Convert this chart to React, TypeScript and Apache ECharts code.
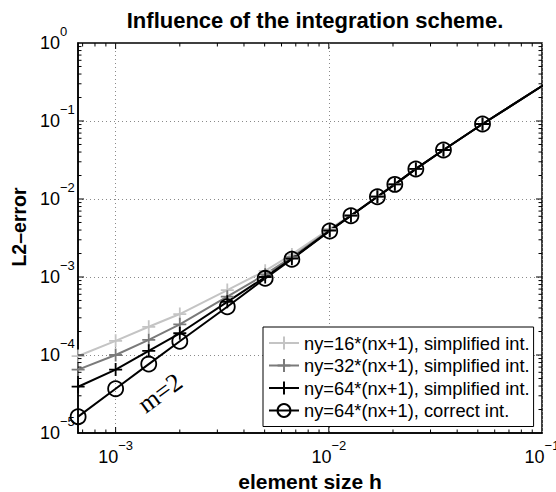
import { useEffect, useRef } from 'react';
import * as echarts from 'echarts';

// element size h of each mesh
const H = [0.000667, 0.001, 0.00143, 0.002, 0.00334, 0.00503, 0.00671, 0.0101, 0.0127, 0.0169, 0.0204, 0.0256, 0.0345, 0.0526, 0.111];

// L2 error per mesh
const ERR_NY16_SIMPLIFIED = [9.7e-5, 1.52e-4, 2.3e-4, 3.35e-4, 6.8e-4, 1.2e-3, 1.95e-3, 4.15e-3, 6.2e-3, 1.08e-2, 1.55e-2, 2.44e-2, 4.26e-2, 9.15e-2, 0.337];
const ERR_NY32_SIMPLIFIED = [6.5e-5, 1.0e-4, 1.56e-4, 2.47e-4, 5.6e-4, 1.08e-3, 1.8e-3, 4.0e-3, 6.14e-3, 1.07e-2, 1.54e-2, 2.43e-2, 4.25e-2, 9.15e-2, 0.337];
const ERR_NY64_SIMPLIFIED = [3.92e-5, 6.5e-5, 1.13e-4, 1.9e-4, 4.8e-4, 1.0e-3, 1.72e-3, 3.93e-3, 6.12e-3, 1.07e-2, 1.54e-2, 2.43e-2, 4.25e-2, 9.15e-2, 0.337];
const ERR_NY64_CORRECT = [1.62e-5, 3.7e-5, 7.65e-5, 1.5e-4, 4.16e-4, 9.62e-4, 1.69e-3, 3.89e-3, 6.11e-3, 1.07e-2, 1.54e-2, 2.43e-2, 4.25e-2, 9.15e-2, 0.337];

const SERIES_NAMES = [
  'ny=16*(nx+1), simplified int.',
  'ny=32*(nx+1), simplified int.',
  'ny=64*(nx+1), simplified int.',
  'ny=64*(nx+1), correct int.',
];

// axis ranges and decades that carry tick marks
const X_MIN = 0.000666;
const X_MAX = 0.1;
const Y_MIN = 1e-5;
const Y_MAX = 1;
const X_DECADES = [-4, -3, -2, -1];
const Y_DECADES = [-5, -4, -3, -2, -1, 0];
const MINOR_STEPS = [2, 3, 4, 5, 6, 7, 8, 9];

const FONT = '"Liberation Sans", Arial, Helvetica, sans-serif';
const PLUS = 'path://M0,6L12,6M6,0L6,12';

// tick marks: [x, y, axis (0 = x, 1 = y), major]
function buildTicks() {
  const ticks: number[][] = [];
  for (const d of X_DECADES) {
    const base = Math.pow(10, d);
    if (base > X_MIN && base < X_MAX) ticks.push([base, Y_MIN, 0, 1]);
    for (const m of MINOR_STEPS) {
      const v = m * base;
      if (v > X_MIN && v < X_MAX) ticks.push([v, Y_MIN, 0, 0]);
    }
  }
  for (const d of Y_DECADES) {
    const base = Math.pow(10, d);
    if (base > Y_MIN && base < Y_MAX) ticks.push([X_MIN, base, 1, 1]);
    for (const m of MINOR_STEPS) {
      const v = m * base;
      if (v > Y_MIN && v < Y_MAX) ticks.push([X_MIN, v, 1, 0]);
    }
  }
  return ticks;
}

function powerLabel(v: number) {
  const e = Math.log10(v);
  const r = Math.round(e);
  if (Math.abs(e - r) > 1e-6) return '';
  return `{b|10}{s|${r < 0 ? '\u2212' : ''}${Math.abs(r)}}`;
}

const labelRich = {
  b: { fontSize: 18, lineHeight: 36, fontFamily: FONT, color: '#000' },
  s: { fontSize: 13, lineHeight: 13, verticalAlign: 'top', fontFamily: FONT, color: '#000' },
};

const gridLine = { show: true, showMinLine: false, showMaxLine: false, lineStyle: { color: '#8a8a8a', width: 1, type: [1, 3] } };

function lineSeries(name: string, values: number[], color: string, circle: boolean) {
  return {
    name,
    type: 'line',
    data: H.map((h, i) => [h, values[i]]),
    clip: true,
    symbol: circle ? 'circle' : PLUS,
    symbolSize: circle ? 15 : 13,
    showSymbol: true,
    lineStyle: { color, width: 2 },
    itemStyle: circle
      ? { color: 'rgba(0,0,0,0)', borderColor: color, borderWidth: 1.8 }
      : { color, borderColor: color, borderWidth: 1.8 },
    emphasis: { disabled: true },
    z: 3,
  };
}

export default function App() {
  const ref = useRef<HTMLDivElement>(null);

  useEffect(() => {
    if (!ref.current) return;
    const chart = echarts.init(ref.current, null, { renderer: 'svg' });
    const option = {
      animation: false,
      backgroundColor: '#fff',
      title: {
        text: 'Influence of the integration scheme.',
        left: 310,
        top: 4,
        textAlign: 'center',
        textStyle: { fontSize: 22, fontWeight: 'bold', color: '#000', fontFamily: FONT },
      },
      grid: {
        left: 78,
        right: 14,
        top: 43,
        bottom: 59,
        show: true,
        borderColor: '#000',
        borderWidth: 1.5,
        backgroundColor: '#fff',
        outerBoundsMode: 'none',
      },
      legend: {
        data: SERIES_NAMES,
        orient: 'vertical',
        left: 263,
        top: 327,
        padding: [7, 4, 7, 5],
        itemGap: 4.5,
        itemWidth: 30,
        itemHeight: 16,
        selectedMode: false,
        backgroundColor: '#fff',
        borderColor: '#000',
        borderWidth: 1,
        textStyle: { fontSize: 18.3, color: '#000', fontFamily: FONT },
      },
      xAxis: {
        type: 'log',
        logBase: 10,
        min: X_MIN,
        max: X_MAX,
        name: 'element size h',
        nameLocation: 'middle',
        nameGap: 32,
        nameTextStyle: { fontSize: 21, lineHeight: 21, fontWeight: 'bold', color: '#000', fontFamily: FONT },
        axisLine: { show: true, lineStyle: { color: '#000', width: 1.5 } },
        axisTick: { show: false },
        axisLabel: { formatter: powerLabel, rich: labelRich, margin: 6, showMaxLabel: true, showMinLabel: true },
        splitLine: gridLine,
      },
      yAxis: {
        type: 'log',
        logBase: 10,
        min: Y_MIN,
        max: Y_MAX,
        name: 'L2\u2013error',
        nameLocation: 'middle',
        nameGap: 48,
        nameTextStyle: { fontSize: 19.5, fontWeight: 'bold', color: '#000', fontFamily: FONT, padding: [0, 0, 0, 22] },
        axisLine: { show: true, lineStyle: { color: '#000', width: 1.5 } },
        axisTick: { show: false },
        axisLabel: { formatter: powerLabel, rich: labelRich, margin: 38, align: 'left', showMaxLabel: true, showMinLabel: true },
        splitLine: gridLine,
      },
      graphic: [
        {
          type: 'text',
          x: 160,
          y: 393,
          rotation: (36 * Math.PI) / 180,
          z: 10,
          style: {
            text: 'm=2',
            fontSize: 26,
            fontFamily: '"Liberation Serif", "Times New Roman", serif',
            fill: '#000',
            align: 'center',
            verticalAlign: 'middle',
            textAlign: 'center',
            textVerticalAlign: 'middle',
          },
        },
      ],
      series: [
        {
          type: 'custom',
          silent: true,
          clip: false,
          z: 5,
          encode: { x: 0, y: 1 },
          data: buildTicks(),
          renderItem: (params: any, api: any) => {
            const cs = params.coordSys;
            const p = api.coord([api.value(0), api.value(1)]);
            const len = api.value(3) ? 6 : 3.5;
            const style = { stroke: '#000', lineWidth: 1 };
            if (api.value(2) === 0) {
              const bottom = cs.y + cs.height;
              return {
                type: 'group',
                children: [
                  { type: 'line', shape: { x1: p[0], y1: bottom, x2: p[0], y2: bottom - len }, style },
                  { type: 'line', shape: { x1: p[0], y1: cs.y, x2: p[0], y2: cs.y + len }, style },
                ],
              };
            }
            const right = cs.x + cs.width;
            return {
              type: 'group',
              children: [
                { type: 'line', shape: { x1: cs.x, y1: p[1], x2: cs.x + len, y2: p[1] }, style },
                { type: 'line', shape: { x1: right, y1: p[1], x2: right - len, y2: p[1] }, style },
              ],
            };
          },
        },
        lineSeries(SERIES_NAMES[0], ERR_NY16_SIMPLIFIED, '#c4c4c4', false),
        lineSeries(SERIES_NAMES[1], ERR_NY32_SIMPLIFIED, '#7a7a7a', false),
        lineSeries(SERIES_NAMES[2], ERR_NY64_SIMPLIFIED, '#000000', false),
        lineSeries(SERIES_NAMES[3], ERR_NY64_CORRECT, '#000000', true),
      ],
    };
    chart.setOption(option as any);
    return () => chart.dispose();
  }, []);

  return (
    <div
      ref={ref}
      style={{ position: 'fixed', left: 0, top: 0, width: 556, height: 492, background: '#fff' }}
    />
  );
}
